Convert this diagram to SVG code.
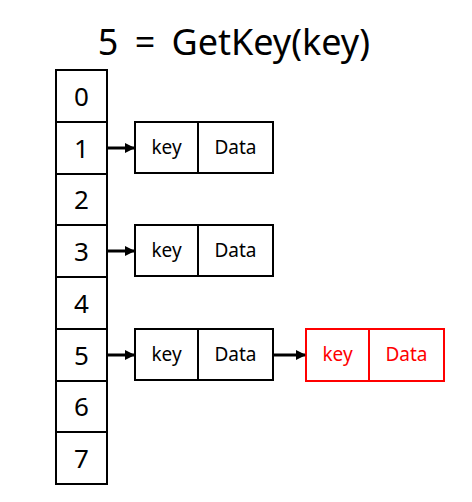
<svg xmlns="http://www.w3.org/2000/svg" width="472" height="502" viewBox="0 0 472 502">
<defs>
<marker id="ah" markerWidth="10" markerHeight="10" refX="9" refY="5" orient="auto" markerUnits="userSpaceOnUse">
<path d="M0,0 L10,5 L0,10 Z" fill="#000"/>
</marker>
<style>
.cell{fill:#fff;stroke:#000;stroke-width:2}
.rcell{fill:#fff;stroke:#f00;stroke-width:2}
.idx{font-family:"Noto Sans","Open Sans",sans-serif;font-size:26px;text-anchor:middle;fill:#000}
.lbl{font-family:"Noto Sans","Open Sans",sans-serif;font-size:19px;text-anchor:middle;fill:#000}
.rlbl{font-family:"Noto Sans","Open Sans",sans-serif;font-size:19px;text-anchor:middle;fill:#f00}
.title{font-family:"Noto Sans","Open Sans",sans-serif;font-size:36px;fill:#000}
.conn{stroke:#000;stroke-width:3;fill:none}
</style>
</defs>
<rect width="472" height="502" fill="#fff"/>
<g id="title">
<text class="title" x="108" y="55" text-anchor="middle">5</text>
<text class="title" x="145" y="55" text-anchor="middle">=</text>
<text class="title" x="370" y="55" text-anchor="end">GetKey(key)</text>
</g>
<g id="array">
<rect class="cell" x="56" y="70" width="51" height="52"/>
<rect class="cell" x="56" y="122" width="51" height="52"/>
<rect class="cell" x="56" y="174" width="51" height="51"/>
<rect class="cell" x="56" y="225" width="51" height="52"/>
<rect class="cell" x="56" y="277" width="51" height="52"/>
<rect class="cell" x="56" y="329" width="51" height="52"/>
<rect class="cell" x="56" y="381" width="51" height="51"/>
<rect class="cell" x="56" y="432" width="51" height="52"/>
<text class="idx" x="81.5" y="106">0</text>
<text class="idx" x="81.5" y="158">1</text>
<text class="idx" x="81.5" y="209">2</text>
<text class="idx" x="81.5" y="261">3</text>
<text class="idx" x="81.5" y="313">4</text>
<text class="idx" x="81.5" y="365">5</text>
<text class="idx" x="81.5" y="416">6</text>
<text class="idx" x="81.5" y="468">7</text>
</g>
<g id="node1">
<rect class="cell" x="135" y="122" width="63" height="51"/>
<rect class="cell" x="198" y="122" width="75" height="51"/>
<text class="lbl" x="166.5" y="154">key</text>
<text class="lbl" x="235.5" y="154">Data</text>
</g>
<g id="node3">
<rect class="cell" x="135" y="225" width="63" height="51"/>
<rect class="cell" x="198" y="225" width="75" height="51"/>
<text class="lbl" x="166.5" y="257">key</text>
<text class="lbl" x="235.5" y="257">Data</text>
</g>
<g id="node5">
<rect class="cell" x="135" y="329" width="63" height="51"/>
<rect class="cell" x="198" y="329" width="75" height="51"/>
<text class="lbl" x="166.5" y="361">key</text>
<text class="lbl" x="235.5" y="361">Data</text>
</g>
<g id="node5b">
<rect class="rcell" x="306" y="329" width="63" height="52"/>
<rect class="rcell" x="369" y="329" width="75" height="52"/>
<text class="rlbl" x="337.5" y="361">key</text>
<text class="rlbl" x="406.5" y="361">Data</text>
</g>
<g id="connectors">
<line class="conn" x1="107" y1="148" x2="134" y2="148" marker-end="url(#ah)"/>
<line class="conn" x1="107" y1="251" x2="134" y2="251" marker-end="url(#ah)"/>
<line class="conn" x1="107" y1="355" x2="134" y2="355" marker-end="url(#ah)"/>
<line class="conn" x1="273" y1="355" x2="305" y2="355" marker-end="url(#ah)"/>
</g>
</svg>
